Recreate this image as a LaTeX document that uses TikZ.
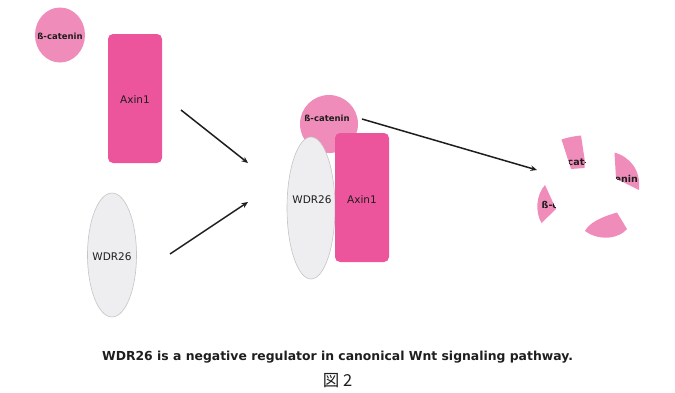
\documentclass[tikz,border=0pt]{standalone}
\usepackage{fontspec}
\setmainfont{DejaVu Sans}
\newfontfamily\cjkfont{Noto Sans CJK JP}
\usetikzlibrary{arrows.meta,shapes.geometric}

\definecolor{catpink}{HTML}{F08CBA}
\definecolor{axpink}{HTML}{EC559C}
\definecolor{wdrgray}{HTML}{EEEEF0}
\definecolor{wdredge}{HTML}{C4C4C6}
\definecolor{ink}{HTML}{1E1E1E}

\begin{document}
\begin{tikzpicture}[x=1pt,y=-1pt,
  catenin/.style={ellipse, fill=catpink, inner sep=0pt},
  catlabel/.style={inner sep=0pt, text=ink, font=\bfseries\fontsize{8.5}{10}\selectfont},
  fraglabel/.style={inner sep=0pt, text=ink, font=\bfseries\fontsize{9.5}{11}\selectfont},
  axin/.style={rectangle, rounded corners=5pt, fill=axpink, inner sep=0pt,
    minimum width=54pt, minimum height=129pt},
  wdr/.style={ellipse, fill=wdrgray, draw=wdredge, line width=0.6pt, inner sep=0pt,
    minimum width=49pt},
  protlabel/.style={inner sep=0pt, text=ink, font=\fontsize{10.5}{12}\selectfont},
  fragment/.style={fill=catpink},
  flow/.style={-{Stealth[length=6.5pt,width=5.5pt]}, line width=1.5pt, draw=ink},
]
\useasboundingbox (0,0) rectangle (675,392);

% free proteins
\node[catenin, minimum width=50pt, minimum height=55pt] (cat1) at (60,35) {};
\node[catlabel] (cat1txt) at (60,36) {ß-catenin};
\node[axin] (ax1) at (135,98.5) {};
\node[protlabel] (ax1txt) at (135,100) {Axin1};
\node[wdr, minimum height=124pt] (wdr1) at (112,255) {};
\node[protlabel] (wdr1txt) at (112,257) {WDR26};

% complex
\node[catenin, minimum width=58pt, minimum height=58pt] (cat2) at (329,124) {};
\node[catlabel] (cat2txt) at (327,118) {ß-catenin};
\node[wdr, minimum width=48pt, minimum height=142pt] (wdr2) at (311,208) {};
\node[protlabel] (wdr2txt) at (312,200) {WDR26};
\node[axin] (ax2) at (362,197.5) {};
\node[protlabel] (ax2txt) at (362,200) {Axin1};

% arrows
\coordinate (a1s) at (181,110);
\coordinate (a1e) at (248,163);
\coordinate (a2s) at (170,254);
\coordinate (a2e) at (248,202);
\coordinate (a3s) at (362,119);
\coordinate (a3e) at (537,170);
\draw[flow] (a1s) -- (a1e);
\draw[flow] (a2s) -- (a2e);
\draw[flow] (a3s) -- (a3e);

% degraded beta-catenin fragments
\begin{scope}
  \clip (561.5,139.5) .. controls (567,137.5) and (575,136) .. (581,135.5)
        -- (585,162) -- (584.5,168) -- (571,169) -- cycle;
  \fill[fragment] (550,130) rectangle (600,175);
  \node[fraglabel, anchor=base west] (fragTtxt) at (567.5,165.5) {catenin};
\end{scope}
\begin{scope}
  \clip (614.5,152.5) .. controls (630,157) and (641,170) .. (639,190)
        -- (616,178.5) -- cycle;
  \fill[fragment] (605,145) rectangle (645,195);
  \node[fraglabel, anchor=base east] (fragRtxt) at (638,182) {ß-catenin};
\end{scope}
\begin{scope}
  \clip (545,185) -- (556,209) -- (541.5,223)
        .. controls (535,212) and (536,195) .. (545,185) -- cycle;
  \fill[fragment] (530,180) rectangle (560,228);
  \node[fraglabel, anchor=base west] (fragLtxt) at (541.5,208.5) {ß-catenin};
\end{scope}
\fill[fragment] (585,231) .. controls (589,223) and (601,217) .. (617,212.5)
      -- (627,229) .. controls (620,238) and (600,242) .. (585,231) -- cycle;

% caption
\node[inner sep=0pt, text=ink, font=\bfseries\fontsize{12.4}{14}\selectfont] (caption)
  at (337.5,357) {WDR26 is a negative regulator in canonical Wnt signaling pathway.};
\node[inner sep=0pt, text=ink, font=\cjkfont\fontsize{16.5}{18}\selectfont] (figno)
  at (337.5,381) {図 2};
\end{tikzpicture}
\end{document}
